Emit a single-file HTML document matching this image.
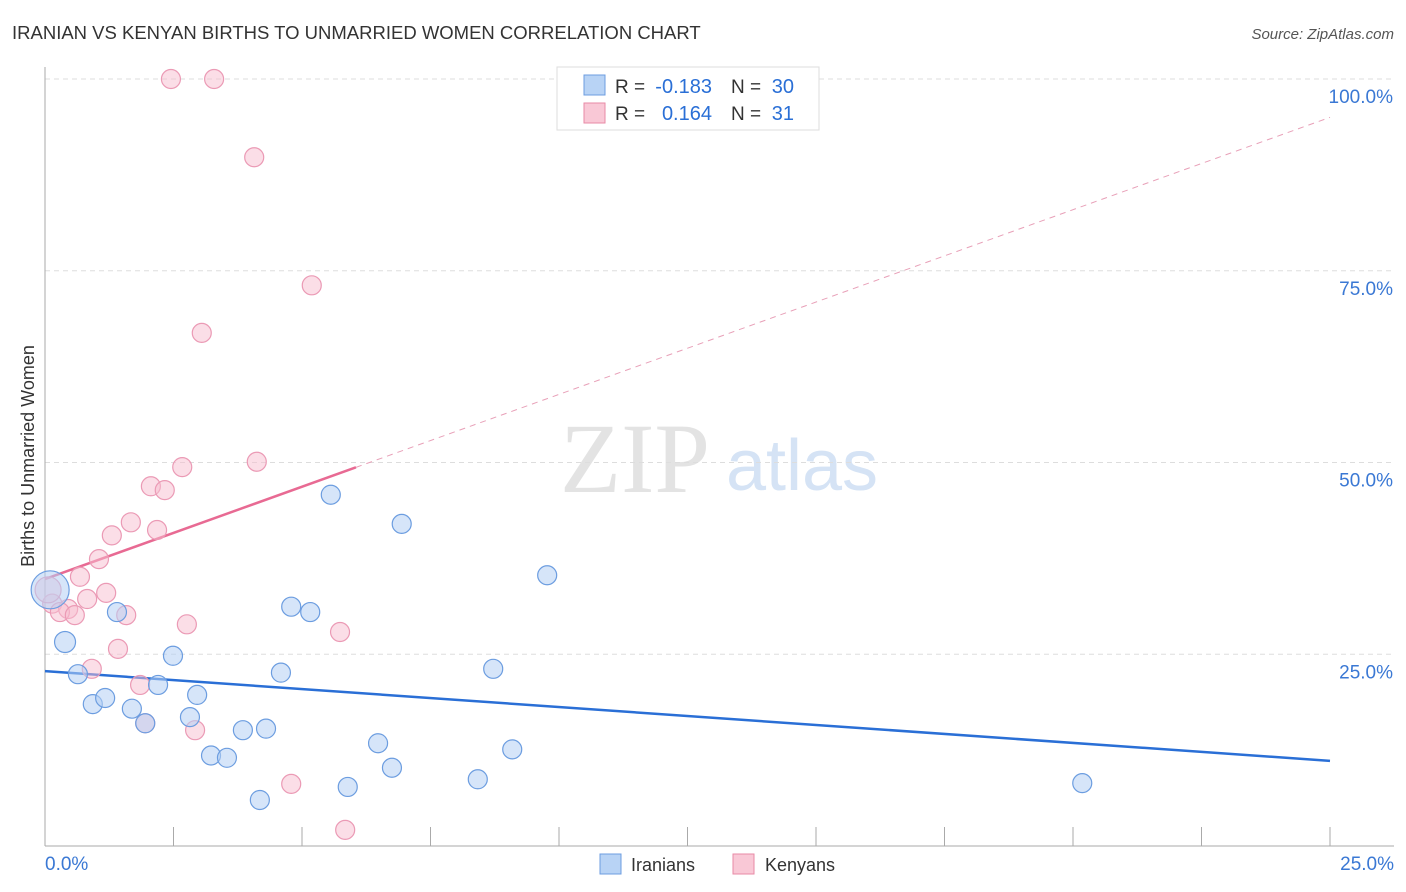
<!DOCTYPE html>
<html><head><meta charset="utf-8"><style>
body{margin:0;background:#fff;font-family:"Liberation Sans",sans-serif;}
svg{display:block}
</style></head><body>
<svg id="chart" width="1406" height="892" xmlns="http://www.w3.org/2000/svg">
<text x="12" y="39" font-size="18.5" fill="#333">IRANIAN VS KENYAN BIRTHS TO UNMARRIED WOMEN CORRELATION CHART</text>
<text x="1394" y="39" font-size="15" fill="#555" font-style="italic" text-anchor="end">Source: ZipAtlas.com</text>
<text x="635" y="492" font-size="100" fill="#e3e3e3" font-family="Liberation Serif,serif" text-anchor="middle">ZIP</text>
<text x="802" y="490" font-size="72" fill="#d5e3f5" text-anchor="middle">atlas</text>
<text transform="translate(34,456) rotate(-90)" font-size="18" fill="#333" text-anchor="middle">Births to Unmarried Women</text>
<g id="grid"></g><g id="axes"></g><g id="lines"></g><g id="pts"></g>
<g>
<rect x="557" y="67" width="262" height="63" fill="#fff" stroke="#ddd"/>
<rect x="584" y="75" width="21" height="20" fill="#b8d3f5" stroke="#6c9de0"/>
<text x="615" y="93" font-size="19" fill="#333">R =</text>
<text x="712" y="93" font-size="20" fill="#2a6fd6" text-anchor="end">-0.183</text>
<text x="731" y="93" font-size="19" fill="#333">N =</text>
<text x="794" y="93" font-size="20" fill="#2a6fd6" text-anchor="end">30</text>
<rect x="584" y="103" width="21" height="20" fill="#f9c8d6" stroke="#e88aa6"/>
<text x="615" y="120" font-size="19" fill="#333">R =</text>
<text x="712" y="120" font-size="20" fill="#2a6fd6" text-anchor="end">0.164</text>
<text x="731" y="120" font-size="19" fill="#333">N =</text>
<text x="794" y="120" font-size="20" fill="#2a6fd6" text-anchor="end">31</text>
</g>
<g>
<rect x="600" y="854" width="21" height="20" fill="#b8d3f5" stroke="#6c9de0"/>
<text x="631" y="871" font-size="18" fill="#333">Iranians</text>
<rect x="733" y="854" width="21" height="20" fill="#f9c8d6" stroke="#e88aa6"/>
<text x="765" y="871" font-size="18" fill="#333">Kenyans</text>
</g>
</svg>
<script>
const blueX=[0.10,0.39,0.64,0.93,1.17,1.40,1.69,1.95,2.20,2.49,2.82,2.96,3.23,3.54,3.85,4.18,4.30,4.59,4.79,5.16,5.56,5.89,6.48,6.75,6.94,8.42,8.72,9.09,9.77,20.18];
const blueY=[33.4,26.6,22.4,18.5,19.3,30.5,17.9,16.0,21.0,24.8,16.8,19.7,11.8,11.5,15.1,6.0,15.3,22.6,31.2,30.5,45.8,7.7,13.4,10.2,42.0,8.7,23.1,12.6,35.3,8.2];
const pinkX=[2.45,3.29,4.07,5.19,3.05,2.67,4.12,2.06,2.33,1.67,2.18,1.30,1.05,0.68,1.19,0.82,0.14,0.45,0.29,0.58,1.58,2.76,5.74,1.42,0.91,1.85,1.95,2.92,4.79,5.84,0.06];
const pinkY=[100,100,89.8,73.1,66.9,49.4,50.1,46.9,46.4,42.2,41.2,40.5,37.4,35.1,33.0,32.2,31.6,30.9,30.5,30.1,30.1,28.9,27.9,25.7,23.1,21.0,16.0,15.1,8.1,2.1,33.4];
const blueLine=[22.8,11.1];
const pinkLine=[34.8,95.0];
const pinkSolidEnd=6.05;
const yTicks=[25,50,75,100];
const xTickLabels=["0.0%","25.0%"];
const X=v=>45+v/25*1285, Y=v=>846-v*7.67;
const NS="http://www.w3.org/2000/svg";
function mk(p,t,a){const e=document.createElementNS(NS,t);for(const k in a)e.setAttribute(k,a[k]);document.getElementById(p).appendChild(e);return e;}
yTicks.forEach(t=>{
 const l=mk('grid','line',{x1:45,x2:1394,y1:Y(t),y2:Y(t),stroke:'#ddd','stroke-dasharray':'5,4'});
 
 
 const tx=mk('grid','text',{x:1393,y:Y(t)+24,'font-size':19,fill:'#3a78d4','text-anchor':'end'});
 tx.textContent=t.toFixed(1)+'%';
 
 
});
const ax=mk('axes','line',{x1:45,x2:45,y1:67,y2:846,stroke:'#aaa'});


const bx=mk('axes','line',{x1:45,x2:1394,y1:846,y2:846,stroke:'#aaa'});


for(let i=0;i<=10;i++){const t=mk('axes','line',{x1:X(i*2.5),x2:X(i*2.5),y1:827,y2:846,stroke:'#aaa'});
 
 }
[[0,'start',45],[25,'end',1394]].forEach((d,i)=>{const t=mk('axes','text',{x:d[2],y:870,'font-size':19,fill:'#3a78d4','text-anchor':d[1]});t.textContent=xTickLabels[i];
 
 });
let l=mk('lines','line',{x1:X(0),y1:Y(blueLine[0]),x2:X(25),y2:Y(blueLine[1]),stroke:'#2a6fd6','stroke-width':2.5});


const py=x=>pinkLine[0]+(pinkLine[1]-pinkLine[0])*x/25;
l=mk('lines','line',{x1:X(0),y1:Y(py(0)),x2:X(pinkSolidEnd),y2:Y(py(pinkSolidEnd)),stroke:'#e86a93','stroke-width':2.5});


l=mk('lines','line',{x1:X(pinkSolidEnd),y1:Y(py(pinkSolidEnd)),x2:X(25),y2:Y(py(25)),stroke:'#e8a0b8','stroke-width':1,'stroke-dasharray':'6,5'});


pinkX.forEach((x,i)=>{const c=mk('pts','circle',{cx:X(x),cy:Y(pinkY[i]),r:i==30?13:9.5,fill:'rgba(248,190,208,0.5)',stroke:'#eb9ab5','stroke-width':1.2});
 
 });
blueX.forEach((x,i)=>{const c=mk('pts','circle',{cx:X(x),cy:Y(blueY[i]),r:i==0?19:(i==1?10.5:9.5),fill:'rgba(180,208,244,0.55)',stroke:'#6c9de0','stroke-width':1.2});
 
 });
</script>
</body></html>
